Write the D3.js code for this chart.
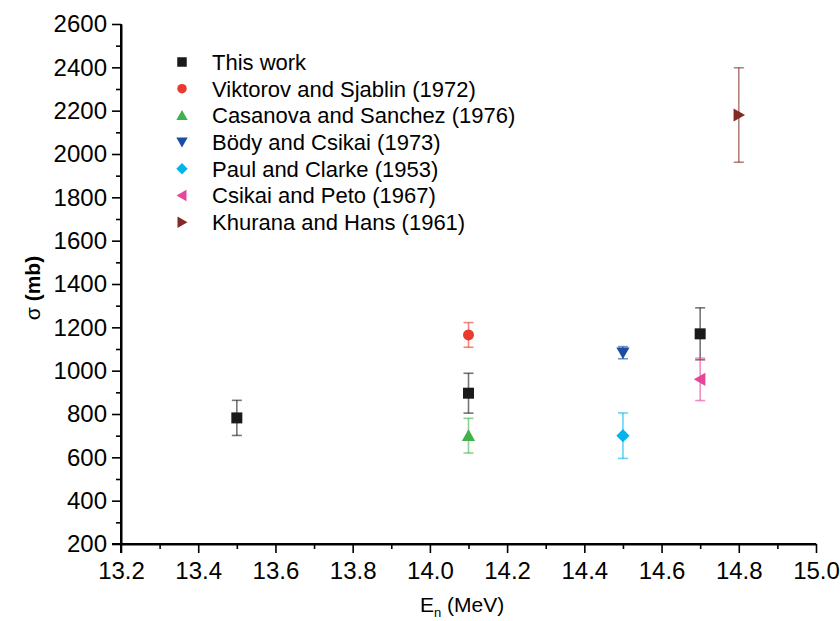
<!DOCTYPE html>
<html>
<head>
<meta charset="utf-8">
<script src="https://cdn.jsdelivr.net/npm/d3@7"></script>
<style>
  html, body { margin: 0; padding: 0; background: #fff; }
  svg { display: block; font-family: "Liberation Sans", Arial, Helvetica, sans-serif; }
</style>
</head>
<body>
<svg id="chart" width="840" height="621"></svg>
<script>
// ---- data ----
const seriesNames = [
  "This work",
  "Viktorov and Sjablin (1972)",
  "Casanova and Sanchez (1976)",
  "Bödy and Csikai (1973)",
  "Paul and Clarke (1953)",
  "Csikai and Peto (1967)",
  "Khurana and Hans (1961)"
];
const seriesSymbols = ["square", "circle", "triUp", "triDown", "diamond", "triLeft", "triRight"];
const seriesColors = ["#1a1a1a", "#e93a2e", "#3fb34a", "#1b4ea3", "#00b5ee", "#e8459a", "#842a22"];

const thisWorkE = [13.5, 14.1, 14.7];
const thisWorkSigma = [782, 896, 1170];
const thisWorkErr = [81, 92, 120];

const viktorovE = [14.1];
const viktorovSigma = [1165];
const viktorovErr = [57];

const casanovaE = [14.1];
const casanovaSigma = [700];
const casanovaErr = [80];

const bodyE = [14.5];
const bodySigma = [1083];
const bodyErr = [28];

const paulE = [14.5];
const paulSigma = [700];
const paulErr = [105];

const csikaiE = [14.7];
const csikaiSigma = [960];
const csikaiErr = [98];

const khuranaE = [14.8];
const khuranaSigma = [2180];
const khuranaErr = [218];

const xTicks = [13.2, 13.4, 13.6, 13.8, 14.0, 14.2, 14.4, 14.6, 14.8, 15.0];
const yTicks = [200, 400, 600, 800, 1000, 1200, 1400, 1600, 1800, 2000, 2200, 2400, 2600];

const series = [
  [thisWorkE, thisWorkSigma, thisWorkErr],
  [viktorovE, viktorovSigma, viktorovErr],
  [casanovaE, casanovaSigma, casanovaErr],
  [bodyE, bodySigma, bodyErr],
  [paulE, paulSigma, paulErr],
  [csikaiE, csikaiSigma, csikaiErr],
  [khuranaE, khuranaSigma, khuranaErr]
].map((s, i) => ({
  name: seriesNames[i], symbol: seriesSymbols[i], color: seriesColors[i],
  points: s[0].map((e, j) => ({ x: e, y: s[1][j], err: s[2][j] }))
}));

// ---- layout ----
const svg = d3.select("#chart");
const mLeft = 121, mRight = 816, mTop = 24, mBottom = 544;

const x = d3.scaleLinear().domain([13.2, 15.0]).range([mLeft, mRight]);
const y = d3.scaleLinear().domain([200, 2600]).range([mBottom, mTop]);

function symbolPath(type, s) {
  const h = s / 2;
  switch (type) {
    case "square": return `M${-h},${-h}H${h}V${h}H${-h}Z`;
    case "circle": return `M${h},0A${h},${h} 0 1,1 ${-h},0A${h},${h} 0 1,1 ${h},0Z`;
    case "diamond": return `M0,${-h * 1.2}L${h * 1.2},0L0,${h * 1.2}L${-h * 1.2},0Z`;
    case "triUp": return `M0,${-h * 1.15}L${h * 1.2},${h * 0.95}L${-h * 1.2},${h * 0.95}Z`;
    case "triDown": return `M0,${h * 1.15}L${h * 1.2},${-h * 0.95}L${-h * 1.2},${-h * 0.95}Z`;
    case "triLeft": return `M${-h * 1.15},0L${h * 0.95},${-h * 1.2}L${h * 0.95},${h * 1.2}Z`;
    case "triRight": return `M${h * 1.15},0L${-h * 0.95},${-h * 1.2}L${-h * 0.95},${h * 1.2}Z`;
  }
}

// ---- axes ----
const axisColor = "#000";
const xMinor = d3.range(13.3, 15.0, 0.2);
const yMinor = d3.range(300, 2600, 200);

const xAxis = svg.append("g").attr("transform", `translate(0,${mBottom})`)
  .call(d3.axisBottom(x).tickValues(xTicks).tickFormat(d3.format(".1f")).tickSizeInner(9).tickSizeOuter(0).tickPadding(6));
const xAxisMinor = svg.append("g").attr("transform", `translate(0,${mBottom})`)
  .call(d3.axisBottom(x).tickValues(xMinor).tickFormat("").tickSizeInner(5).tickSizeOuter(0));
const yAxis = svg.append("g").attr("transform", `translate(${mLeft},0)`)
  .call(d3.axisLeft(y).tickValues(yTicks).tickFormat(d3.format("d")).tickSizeInner(9).tickSizeOuter(0).tickPadding(5));
const yAxisMinor = svg.append("g").attr("transform", `translate(${mLeft},0)`)
  .call(d3.axisLeft(y).tickValues(yMinor).tickFormat("").tickSizeInner(5).tickSizeOuter(0));

[xAxis, xAxisMinor, yAxis, yAxisMinor].forEach(g => {
  g.select(".domain").attr("stroke", axisColor).attr("stroke-width", 2);
  g.selectAll(".tick line").attr("stroke", axisColor).attr("stroke-width", 1.6);
  g.selectAll(".tick text").attr("fill", "#000").style("font-size", "24px")
    .style("font-family", "'Liberation Sans', Arial, sans-serif");
});
xAxis.select(".domain").attr("d", `M${mLeft - 9},0H${mRight}`);
yAxis.select(".domain").attr("d", `M0,${mTop}V${mBottom + 9}`);
xAxis.selectAll(".tick text").attr("dy", "0.85em");

// ---- axis titles ----
const xt = svg.append("text").attr("x", 462).attr("y", 612)
  .attr("text-anchor", "middle").style("font-size", "21px").attr("fill", "#000");
xt.append("tspan").text("E");
xt.append("tspan").attr("dy", 5).style("font-size", "13px").text("n");
xt.append("tspan").attr("dy", -5).text(" (MeV)");

const yt = svg.append("text").attr("transform", `translate(40,288) rotate(-90)`)
  .attr("text-anchor", "middle").style("font-size", "21px").attr("fill", "#000");
yt.append("tspan").text("σ ");
yt.append("tspan").style("font-weight", "bold").text("(mb)");

// ---- data marks ----
const capW = 5;
series.forEach(s => {
  const g = svg.append("g");
  s.points.forEach(p => {
    const cx = x(p.x), y1 = y(p.y + p.err), y0 = y(p.y - p.err);
    const eb = g.append("g").attr("stroke", s.color).attr("stroke-opacity", 0.6).attr("stroke-width", 1.6);
    eb.append("line").attr("x1", cx).attr("x2", cx).attr("y1", y1).attr("y2", y0);
    eb.append("line").attr("x1", cx - capW).attr("x2", cx + capW).attr("y1", y1).attr("y2", y1);
    eb.append("line").attr("x1", cx - capW).attr("x2", cx + capW).attr("y1", y0).attr("y2", y0);
    g.append("path").attr("d", symbolPath(s.symbol, 11))
      .attr("transform", `translate(${cx},${y(p.y)})`).attr("fill", s.color);
  });
});

// ---- legend ----
const legX = 182, legY0 = 62, legDy = 26.7;
series.forEach((s, i) => {
  const ly = legY0 + i * legDy;
  svg.append("path").attr("d", symbolPath(s.symbol, 9.5))
    .attr("transform", `translate(${legX},${ly})`).attr("fill", s.color);
  svg.append("text").attr("x", 212).attr("y", ly).attr("dy", "0.36em")
    .style("font-size", "22px").attr("fill", "#000").text(s.name);
});
</script>
</body>
</html>
